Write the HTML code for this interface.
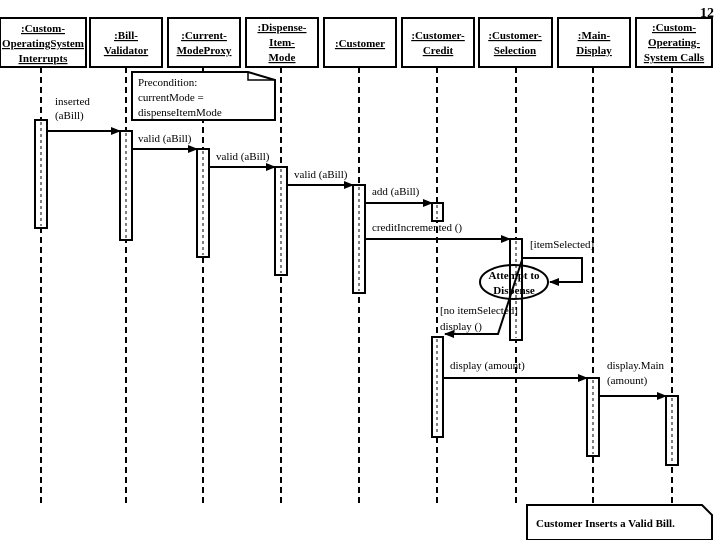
<!DOCTYPE html>
<html><head><style>
body{margin:0;background:#fff}
svg{display:block}
text{font-family:"Liberation Serif",serif;font-size:11px;fill:#000}
.b{font-weight:bold;text-decoration:underline}
</style></head><body>
<svg width="720" height="540" viewBox="0 0 720 540" xmlns="http://www.w3.org/2000/svg">
<defs><marker id="a" markerWidth="10" markerHeight="8" refX="9" refY="4" orient="auto" markerUnits="userSpaceOnUse"><path d="M0,0 L10,4 L0,8 z"/></marker></defs>
<text x="700" y="17" style="font-weight:bold;font-size:14px">12</text>
<g fill="#fff" stroke="#000" stroke-width="2">
<rect x="0" y="18" width="86" height="49"/><rect x="90" y="18" width="72" height="49"/>
<rect x="168" y="18" width="72" height="49"/><rect x="246" y="18" width="72" height="49"/>
<rect x="324" y="18" width="72" height="49"/><rect x="402" y="18" width="72" height="49"/>
<rect x="479" y="18" width="73" height="49"/><rect x="558" y="18" width="72" height="49"/>
<rect x="636" y="18" width="76" height="49"/>
</g>
<g stroke="#000" stroke-width="2" stroke-dasharray="6,4">
<line x1="41" y1="67" x2="41" y2="505"/><line x1="126" y1="67" x2="126" y2="505"/>
<line x1="203" y1="67" x2="203" y2="505"/><line x1="281" y1="67" x2="281" y2="505"/>
<line x1="359" y1="67" x2="359" y2="505"/><line x1="437" y1="67" x2="437" y2="505"/>
<line x1="516" y1="67" x2="516" y2="505"/><line x1="593" y1="67" x2="593" y2="505"/>
<line x1="672" y1="67" x2="672" y2="505"/>
</g>
<g class="b" text-anchor="middle">
<text class="b" x="43" y="32">:Custom-</text><text class="b" x="43" y="47">OperatingSystem</text><text class="b" x="43" y="62">Interrupts</text>
<text class="b" x="126" y="39">:Bill-</text><text class="b" x="126" y="54">Validator</text>
<text class="b" x="204" y="39">:Current-</text><text class="b" x="204" y="54">ModeProxy</text>
<text class="b" x="282" y="31">:Dispense-</text><text class="b" x="282" y="46">Item-</text><text class="b" x="282" y="61">Mode</text>
<text class="b" x="360" y="47">:Customer</text>
<text class="b" x="438" y="39">:Customer-</text><text class="b" x="438" y="54">Credit</text>
<text class="b" x="515" y="39">:Customer-</text><text class="b" x="515" y="54">Selection</text>
<text class="b" x="594" y="39">:Main-</text><text class="b" x="594" y="54">Display</text>
<text class="b" x="674" y="31">:Custom-</text><text class="b" x="674" y="46">Operating-</text><text class="b" x="674" y="61">System Calls</text>
</g>
<path d="M132,72 H248 L275,80 V120 H132 Z" fill="#fff" stroke="#000" stroke-width="2"/>
<path d="M248,72 V80 H275" fill="none" stroke="#000" stroke-width="1.5"/>
<text x="138" y="86">Precondition:</text><text x="138" y="101">currentMode =</text><text x="138" y="116">dispenseItemMode</text>
<g fill="#fff" stroke="#000" stroke-width="2">
<rect x="35" y="120" width="12" height="108"/><rect x="120" y="131" width="12" height="109"/>
<rect x="197" y="149" width="12" height="108"/><rect x="275" y="167" width="12" height="108"/>
<rect x="353" y="185" width="12" height="108"/><rect x="432" y="203" width="11" height="18"/>
<rect x="510" y="239" width="12" height="101"/><rect x="432" y="337" width="11" height="100"/>
<rect x="587" y="378" width="12" height="78"/><rect x="666" y="396" width="12" height="69"/>
</g>
<g stroke="#000" stroke-width="1" stroke-dasharray="3,3">
<line x1="41" y1="122" x2="41" y2="226"/><line x1="126" y1="133" x2="126" y2="238"/>
<line x1="203" y1="151" x2="203" y2="255"/><line x1="281" y1="169" x2="281" y2="273"/>
<line x1="359" y1="187" x2="359" y2="291"/><line x1="437" y1="205" x2="437" y2="219"/>
<line x1="516" y1="241" x2="516" y2="338"/><line x1="437" y1="339" x2="437" y2="435"/>
<line x1="593" y1="380" x2="593" y2="454"/><line x1="672" y1="398" x2="672" y2="463"/>
</g>
<g stroke="#000" stroke-width="2" fill="none" marker-end="url(#a)">
<line x1="47" y1="131" x2="120" y2="131"/><line x1="132" y1="149" x2="197" y2="149"/>
<line x1="209" y1="167" x2="275" y2="167"/><line x1="287" y1="185" x2="353" y2="185"/>
<line x1="365" y1="203" x2="432" y2="203"/><line x1="365" y1="239" x2="510" y2="239"/>
<line x1="443" y1="378" x2="587" y2="378"/><line x1="599" y1="396" x2="666" y2="396"/>
<path d="M522,258 H582 V282 H550"/>
<path d="M522,260 L498,334 H445"/>
</g>
<ellipse cx="514" cy="282" rx="34" ry="17" fill="none" stroke="#000" stroke-width="2"/>
<text x="514" y="279" text-anchor="middle" font-weight="bold">Attempt to</text>
<text x="514" y="294" text-anchor="middle" font-weight="bold">Dispense</text>
<text x="55" y="105">inserted</text><text x="55" y="119">(aBill)</text>
<text x="138" y="142">valid (aBill)</text><text x="216" y="160">valid (aBill)</text>
<text x="294" y="178">valid (aBill)</text><text x="372" y="195">add (aBill)</text>
<text x="372" y="231">creditIncremented ()</text><text x="530" y="248">[itemSelected]</text>
<text x="440" y="314">[no itemSelected]</text><text x="440" y="330">display ()</text>
<text x="450" y="369">display (amount)</text>
<text x="607" y="369">display.Main</text><text x="607" y="384">(amount)</text>
<path d="M527,505 H702 L712,515 V540 H527 Z" fill="#fff" stroke="#000" stroke-width="2"/>
<text x="536" y="527" font-weight="bold">Customer Inserts a Valid Bill.</text>
</svg>
</body></html>
